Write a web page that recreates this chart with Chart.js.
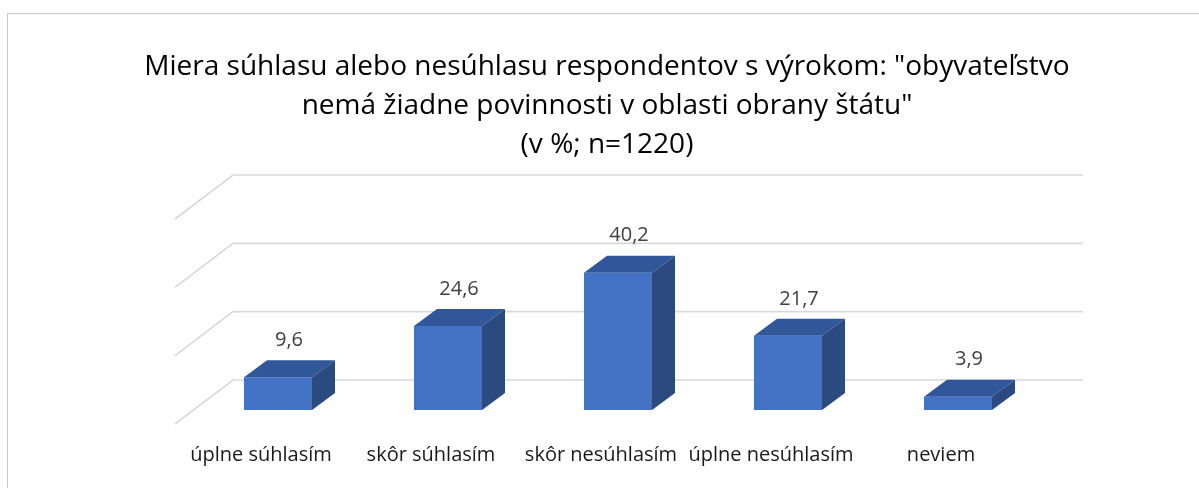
<!DOCTYPE html>
<html>
<head>
<meta charset="utf-8">
<script src="https://cdn.jsdelivr.net/npm/chart.js@4.4.0/dist/chart.umd.min.js"></script>
<style>
  html, body { margin: 0; padding: 0; background: #fff; overflow: hidden; }
  #wrap { position: relative; width: 1199px; height: 488px; overflow: hidden; }
  #frame { position: absolute; left: 7px; top: 13px; width: 1300px; height: 600px; border: 1px solid #c9c9c9; box-sizing: border-box; }
  #survey_chart { position: absolute; left: 0; top: 0; }
</style>
</head>
<body>
<div id="wrap">
  <div id="frame"></div>
  <canvas id="survey_chart" width="1199" height="500"></canvas>
</div>
<script>
var titleLines = [
    'Miera súhlasu alebo nesúhlasu respondentov s výrokom: "obyvateľstvo',
    'nemá žiadne povinnosti v oblasti obrany štátu"',
    '(v %; n=1220)'
];
var categories = ['úplne súhlasím', 'skôr súhlasím', 'skôr nesúhlasím', 'úplne nesúhlasím', 'neviem'];
var percentValues = [9.6, 24.6, 40.2, 21.7, 3.9];
var axisTicks = [0, 20, 40, 60];

var FONT = "'Open Sans', 'Noto Sans', sans-serif";
var frontColor = '#4472C4';
var topColor = '#31569A';
var sideColor = '#2A4A80';
var gridColor = '#d9d9d9';
// oblique offsets of the 3d box, in px
var backWall = { dx: 40, dy: -30 };
var frontEdge = { dx: -18, dy: 14 };
var barDepth = { dx: 23, dy: -17 };

var depthPlugin = {
    id: 'depth3d',
    beforeDatasetsDraw: function (chart) {
        var ctx = chart.ctx;
        var area = chart.chartArea;
        var yScale = chart.scales.y;
        ctx.save();
        ctx.strokeStyle = gridColor;
        ctx.lineWidth = 1.6;
        axisTicks.forEach(function (t) {
            var py = yScale.getPixelForValue(t);
            ctx.beginPath();
            ctx.moveTo(area.left + frontEdge.dx, py + frontEdge.dy);
            ctx.lineTo(area.left + backWall.dx, py + backWall.dy);
            ctx.lineTo(area.right + backWall.dx, py + backWall.dy);
            ctx.stroke();
        });
        ctx.restore();
    },
    afterDatasetsDraw: function (chart) {
        var ctx = chart.ctx;
        var meta = chart.getDatasetMeta(0);
        ctx.save();
        meta.data.forEach(function (bar, i) {
            var p = bar.getProps(['x', 'y', 'base', 'width'], true);
            var left = p.x - p.width / 2;
            var right = p.x + p.width / 2;
            // top face
            ctx.fillStyle = topColor;
            ctx.beginPath();
            ctx.moveTo(left, p.y);
            ctx.lineTo(left + barDepth.dx, p.y + barDepth.dy);
            ctx.lineTo(right + barDepth.dx, p.y + barDepth.dy);
            ctx.lineTo(right, p.y);
            ctx.closePath();
            ctx.fill();
            // side face
            ctx.fillStyle = sideColor;
            ctx.beginPath();
            ctx.moveTo(right, p.y);
            ctx.lineTo(right + barDepth.dx, p.y + barDepth.dy);
            ctx.lineTo(right + barDepth.dx, p.base + barDepth.dy);
            ctx.lineTo(right, p.base);
            ctx.closePath();
            ctx.fill();
            // value label
            ctx.fillStyle = '#404040';
            ctx.font = '20px ' + FONT;
            ctx.textAlign = 'center';
            ctx.textBaseline = 'middle';
            ctx.fillText(percentValues[i].toFixed(1).replace('.', ','), p.x + 11, p.y - 37);
        });
        ctx.restore();
    }
};

// invisible axis that only reserves a fixed width beside the plot
function spacerAxis(position, width) {
    return {
        type: 'linear',
        position: position,
        display: true,
        grid: { display: false, drawTicks: false },
        border: { display: false },
        ticks: { display: false },
        afterFit: function (scale) { scale.width = width; }
    };
}

var SurveyChart = {
    init: function () {
        var ctx = document.getElementById('survey_chart').getContext('2d');
        var yAxis = spacerAxis('left', 178);
        yAxis.min = 0;
        yAxis.max = 60;
        yAxis.afterBuildTicks = function (scale) {
            scale.ticks = axisTicks.map(function (v) { return { value: v }; });
        };
        new Chart(ctx, {
            type: 'bar',
            data: {
                labels: categories,
                datasets: [{
                    data: percentValues,
                    backgroundColor: frontColor,
                    borderWidth: 0,
                    barPercentage: 0.4,
                    categoryPercentage: 1
                }]
            },
            options: {
                responsive: false,
                animation: false,
                layout: { padding: { top: 48, left: 15, right: 0, bottom: 0 } },
                plugins: {
                    legend: { display: false },
                    tooltip: { enabled: false },
                    title: {
                        display: true,
                        text: titleLines,
                        color: '#000000',
                        font: { family: FONT, size: 28, weight: 'normal', lineHeight: 39 / 28 },
                        padding: { top: 0, bottom: 40 }
                    }
                },
                scales: {
                    x: {
                        grid: { display: false, drawTicks: false },
                        border: { display: false },
                        ticks: {
                            color: '#1a1a1a',
                            font: { family: FONT, size: 20 },
                            padding: 33,
                            labelOffset: -17,
                            maxRotation: 0,
                            minRotation: 0,
                            autoSkip: false
                        }
                    },
                    y: yAxis,
                    yRight: spacerAxis('right', 156)
                }
            },
            plugins: [depthPlugin]
        });
    }
};

SurveyChart.init();
</script>
</body>
</html>
